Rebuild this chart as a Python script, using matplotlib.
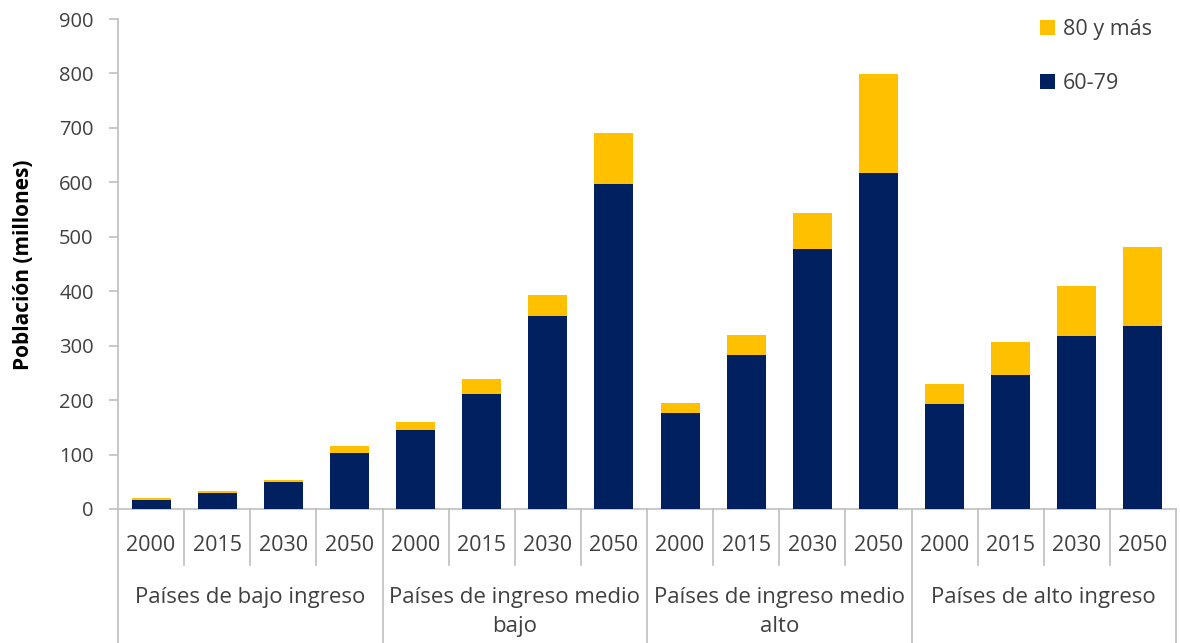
import matplotlib
matplotlib.use("Agg")
import matplotlib.pyplot as plt
import numpy as np

plt.rcParams['font.family'] = ['Open Sans', 'DejaVu Sans']

groups = ["Países de bajo ingreso", "Países de ingreso medio\nbajo",
          "Países de ingreso medio\nalto", "Países de alto ingreso"]
years = ["2000", "2015", "2030", "2050"]
s60_79 = [17, 30, 49, 102,
          145, 211, 355, 597,
          176, 282, 477, 618,
          193, 247, 318, 336]
s80 = [3, 3, 4, 14,
       15, 27, 38, 94,
       19, 37, 66, 181,
       37, 60, 91, 145]
yticks = [0, 100, 200, 300, 400, 500, 600, 700, 800, 900]

navy = "#002060"
gold = "#FFC000"
gray = "#BFBFBF"
tcol = "#404040"

W, H = 1180, 643
fig = plt.figure(figsize=(W / 100, H / 100), dpi=100)
ax = fig.add_axes([118 / W, 1 - 509 / H, (1176 - 118) / W, 490 / H])

n = len(s60_79)
x = np.arange(n) + 0.5
ax.bar(x, s60_79, width=0.59, color=navy, label="60-79", zorder=3)
ax.bar(x, s80, width=0.59, bottom=s60_79, color=gold, label="80 y más", zorder=3)

ax.set_xlim(0, n)
ax.set_ylim(0, 900)
ax.set_yticks(yticks)
ax.set_yticklabels([str(v) for v in yticks], fontsize=14.5, color=tcol)
ax.set_xticks([])
for s in ["top", "right"]:
    ax.spines[s].set_visible(False)
ax.spines["left"].set_color(gray)
ax.spines["bottom"].set_color(gray)
ax.spines["left"].set_linewidth(1.2)
ax.spines["bottom"].set_linewidth(1.2)
ax.tick_params(axis="y", direction="out", length=6.5, width=1.2, color=gray, pad=11)

fig.text(24 / W, 1 - 265 / H, "Población (millones)", rotation=90, ha="center", va="center",
         fontsize=15, fontweight="bold", color="black")

tr = ax.get_xaxis_transform()
# separators
for i in range(n + 1):
    y0 = -0.28 if i % 4 == 0 else -0.114
    ax.plot([i, i], [0, y0], transform=tr, color=gray, lw=1.2, clip_on=False)

for i in range(n):
    ax.text(i + 0.5, -0.0735, years[i % 4], transform=tr, ha="center", va="center",
            fontsize=15.5, color=tcol)

for g, name in enumerate(groups):
    for k, line in enumerate(name.split("\n")):
        ax.text(g * 4 + 2, -0.1796 - 0.0612 * k, line, transform=tr, ha="center", va="center",
                fontsize=16, color=tcol)

handles, labels = ax.get_legend_handles_labels()
leg = fig.legend(handles[::-1], labels[::-1], loc="upper left",
                 bbox_to_anchor=(1040 / W, 1 - 19 / H),
                 frameon=False, fontsize=15.5, handlelength=0.7, handleheight=0.7,
                 labelspacing=1.55, handletextpad=0.35, borderpad=0, borderaxespad=0)
for t in leg.get_texts():
    t.set_color(tcol)

fig.savefig("out.png", dpi=100)
